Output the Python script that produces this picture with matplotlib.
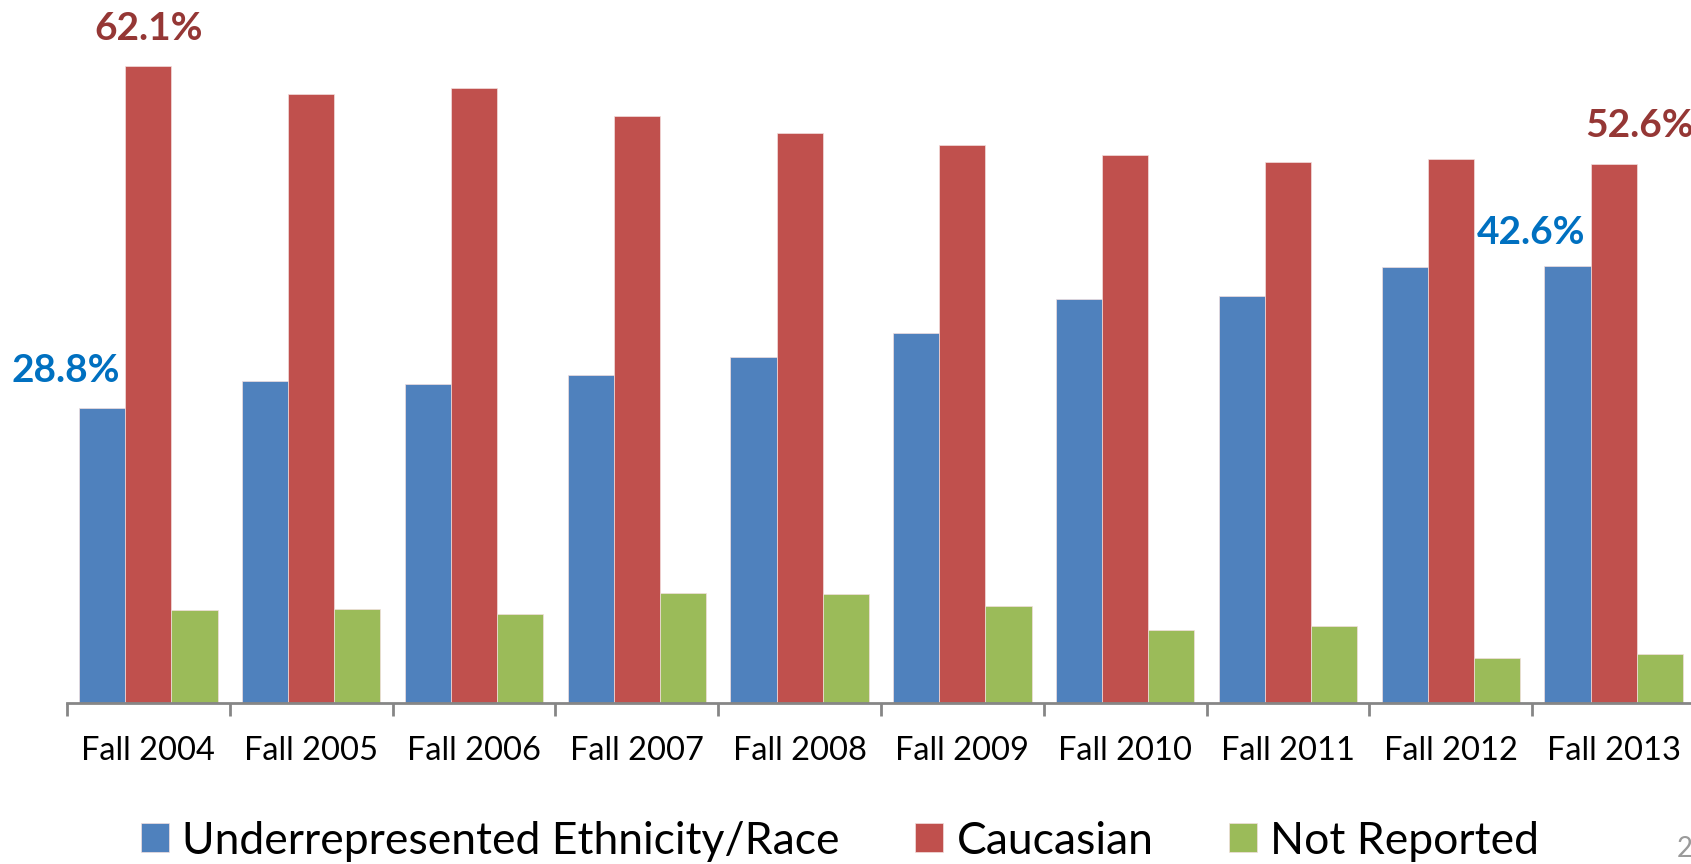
import numpy as np
import matplotlib
matplotlib.use("Agg")
import matplotlib.pyplot as plt
from matplotlib.ticker import FixedLocator, NullFormatter, FixedFormatter

plt.rcParams['font.family'] = ['Lato', 'DejaVu Sans']

years = ["Fall 2004", "Fall 2005", "Fall 2006", "Fall 2007", "Fall 2008",
         "Fall 2009", "Fall 2010", "Fall 2011", "Fall 2012", "Fall 2013"]
underrep = [28.8, 31.4, 31.1, 32.0, 33.8, 36.1, 39.4, 39.7, 42.5, 42.6]
caucasian = [62.1, 59.4, 60.0, 57.3, 55.6, 54.4, 53.5, 52.8, 53.1, 52.6]
not_reported = [9.1, 9.2, 8.7, 10.7, 10.6, 9.5, 7.1, 7.5, 4.4, 4.8]
series_names = ["Underrepresented Ethnicity/Race", "Caucasian", "Not Reported"]
colors = ["#4F81BD", "#C0504D", "#9BBB59"]

W, H = 1691, 864
fig = plt.figure(figsize=(W / 100, H / 100), dpi=100)
ax = fig.add_axes([67 / W, 161 / H, 1628 / W, 697 / H])

x = np.arange(len(years))
width = 0.283
bars = []
for i, (vals, name, col) in enumerate(zip([underrep, caucasian, not_reported], series_names, colors)):
    b = ax.bar(x + (i - 1) * width, vals, width, color=col, label=name,
               edgecolor="#f2dede", linewidth=0.5)
    bars.append(b)

ax.set_xlim(-0.5, len(years) - 0.5)
ax.set_ylim(0, 68)

for s in ["top", "right", "left"]:
    ax.spines[s].set_visible(False)
ax.spines["bottom"].set_color("#868686")
ax.spines["bottom"].set_linewidth(2)
ax.set_yticks([])

# boundaries get the tick marks, centres get the labels
ax.xaxis.set_major_locator(FixedLocator(np.arange(-0.5, len(years), 1.0)))
ax.xaxis.set_major_formatter(NullFormatter())
ax.xaxis.set_minor_locator(FixedLocator(x))
ax.xaxis.set_minor_formatter(FixedFormatter(years))
ax.tick_params(axis="x", which="major", length=9, width=2, color="#868686", direction="out")
ax.tick_params(axis="x", which="minor", length=0, pad=24, labelsize=23.5, labelcolor="black")

# value labels on first and last year
blue_lbl = "#0070C0"
red_lbl = "#953735"
ax.annotate(f"{underrep[0]}%", (x[0] - width, underrep[0]), xytext=(-26, 14),
            textcoords="offset points", ha="center", va="bottom",
            fontsize=28, fontweight="bold", color=blue_lbl, annotation_clip=False)
ax.annotate(f"{caucasian[0]}%", (x[0], caucasian[0]), xytext=(0, 15),
            textcoords="offset points", ha="center", va="bottom",
            fontsize=28, fontweight="bold", color=red_lbl, annotation_clip=False)
ax.annotate(f"{underrep[-1]}%", (x[-1] - width, underrep[-1]), xytext=(-26, 12),
            textcoords="offset points", ha="center", va="bottom",
            fontsize=28, fontweight="bold", color=blue_lbl, annotation_clip=False)
ax.annotate(f"{caucasian[-1]}%", (x[-1], caucasian[-1]), xytext=(19, 15),
            textcoords="offset points", ha="center", va="bottom",
            fontsize=28, fontweight="bold", color=red_lbl, annotation_clip=False)

fig.legend(handles=bars, labels=series_names, loc="center", ncol=3,
           bbox_to_anchor=(840 / W, 23 / H), frameon=False, fontsize=32,
           handlelength=0.63, handleheight=0.63, handletextpad=0.3,
           columnspacing=1.7, borderaxespad=0)

fig.text(1677 / W, 15 / H, "2", fontsize=20, color="#9a9a9a", ha="left", va="center")

fig.savefig("out.png", dpi=100)
